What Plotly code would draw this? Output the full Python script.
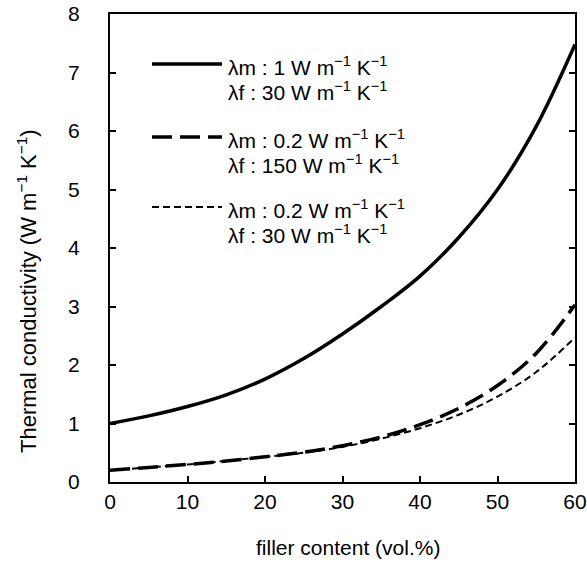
import plotly.graph_objects as go

# filler content (vol.%)
filler = [0, 5, 10, 15, 20, 25, 30, 35, 40, 45, 50, 55, 60]
# thermal conductivity, W m-1 K-1
k_m1_f30 = [1.0, 1.13, 1.29, 1.49, 1.76, 2.11, 2.53, 3.0, 3.52, 4.18, 5.0, 6.08, 7.48]
k_m02_f150 = [0.2, 0.25, 0.3, 0.36, 0.43, 0.51, 0.62, 0.77, 0.98, 1.26, 1.65, 2.2, 3.03]
k_m02_f30 = [0.2, 0.25, 0.3, 0.36, 0.43, 0.5, 0.6, 0.74, 0.92, 1.15, 1.46, 1.88, 2.47]

legend_l1 = ["λm : 1 W m<sup>−1</sup> K<sup>−1</sup>",
             "λm : 0.2 W m<sup>−1</sup> K<sup>−1</sup>",
             "λm : 0.2 W m<sup>−1</sup> K<sup>−1</sup>"]
legend_l2 = ["λf : 30 W m<sup>−1</sup> K<sup>−1</sup>",
             "λf : 150 W m<sup>−1</sup> K<sup>−1</sup>",
             "λf : 30 W m<sup>−1</sup> K<sup>−1</sup>"]
x_title = "filler content (vol.%)"
y_title = "Thermal conductivity (W m<sup>−1</sup> K<sup>−1</sup>)"

FONT = "Liberation Sans, Arial, sans-serif"
FS = 21
W, H = 587, 568
L, R, T, B = 110, 12, 14, 86
PW, PH = W - L - R, H - T - B

styles = [
    dict(color="black", width=3.5, dash="solid"),
    dict(color="black", width=3.5, dash="20px,8px"),
    dict(color="black", width=2, dash="7px,4px"),
]
series = [k_m1_f30, k_m02_f150, k_m02_f30]

fig = go.Figure()
for ys, st in zip(series, styles):
    fig.add_trace(go.Scatter(x=filler, y=ys, mode="lines", line=dict(shape="spline", **st),
                             showlegend=False, hoverinfo="skip"))

def px_x(p):
    return (p - L) / PW

def px_y(p):
    return (H - B - p) / PH

shapes = []
annotations = []
leg_y = [64, 137, 207]
for i, st in enumerate(styles):
    y0 = leg_y[i]
    shapes.append(dict(type="line", xref="paper", yref="paper",
                       x0=px_x(152), x1=px_x(222), y0=px_y(y0), y1=px_y(y0),
                       line=st))
    annotations.append(dict(xref="paper", yref="paper", x=px_x(226), y=px_y(y0 + 2),
                            text=legend_l1[i], showarrow=False, xanchor="left", yanchor="middle",
                            font=dict(family=FONT, size=FS, color="black")))
    annotations.append(dict(xref="paper", yref="paper", x=px_x(226), y=px_y(y0 + 27),
                            text=legend_l2[i], showarrow=False, xanchor="left", yanchor="middle",
                            font=dict(family=FONT, size=FS, color="black")))

# axis titles
annotations.append(dict(xref="paper", yref="paper", x=px_x(348), y=px_y(547),
                        text=x_title, showarrow=False, xanchor="center", yanchor="middle",
                        font=dict(family=FONT, size=FS, color="black")))
annotations.append(dict(xref="paper", yref="paper", x=px_x(27), y=px_y(291),
                        text=y_title, showarrow=False, xanchor="center", yanchor="middle",
                        textangle=-90, font=dict(family=FONT, size=22, color="black")))

fig.update_layout(
    width=W, height=H,
    margin=dict(l=L, r=R, t=T, b=B, autoexpand=False),
    paper_bgcolor="white", plot_bgcolor="white",
    font=dict(family=FONT, size=FS, color="black"),
    shapes=shapes, annotations=annotations,
    xaxis=dict(range=[0, 60], dtick=10, ticks="inside", ticklen=6, tickwidth=1.5,
               tickcolor="black", showline=True, linecolor="black", linewidth=2,
               mirror=True, showgrid=False, zeroline=False, automargin=False,
               tickfont=dict(family=FONT, size=FS)),
    yaxis=dict(range=[0, 8], dtick=1, ticks="inside", ticklen=6, tickwidth=1.5,
               tickcolor="black", showline=True, linecolor="black", linewidth=2,
               mirror="ticks", showgrid=False, zeroline=False, ticklabelstandoff=24,
               automargin=False,
               tickfont=dict(family=FONT, size=FS)),
)

fig.write_html("out.html")
